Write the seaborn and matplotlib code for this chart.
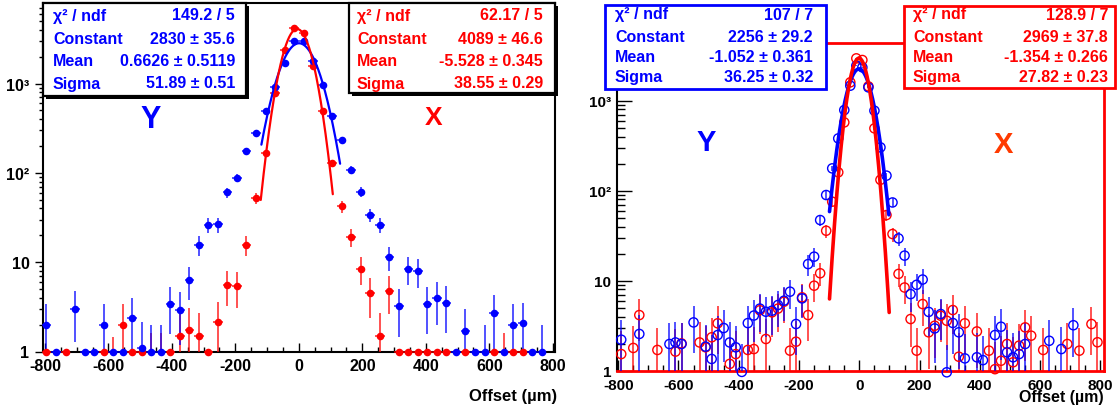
import numpy as np
import pandas as pd
import matplotlib
matplotlib.use("Agg")
import matplotlib.pyplot as plt
from matplotlib.patches import Rectangle
from matplotlib.ticker import FixedLocator, FixedFormatter, MultipleLocator, NullFormatter
import seaborn as sns

nan = np.nan

# ---------------- left panel: 30 um bins ----------------
left_centers = np.arange(-795, 796, 30)
left_y_counts = [2.0, 0, nan, 3.0, 0, 0, 2.0, 0, 0, 2.4, 1.1, 1.0, 1.0, 3.4, 2.9, 6.3,
                 15.7, 26.3, 26.5, 60.6, 87.7, 174, 277, 498, 908, 1687, 2973, 3027,
                 1806, 973, 430, 232, 109, 61.6, 33.8, 26.3, 11.3, 3.26, 8.5, 8.04, 3.4,
                 3.94, 3.49, 0, 1.71, 0, 1.0, 2.7, 0, 2.0, 2.06, 0, 1.0, nan]
left_x_counts = [0, nan, 0, nan, nan, nan, 0, 0.65, 2.0, 0, 0, 0.75, 0.75, 0, 1.5, 1.76,
                 1.5, 0, 2.12, 5.55, 5.37, 15.7, 51.9, 167, 778, 2399, 4197, 3690, 1588,
                 498, 129, 42.2, 19.3, 8.5, 4.52, 1.48, 4.8, 0, 0, 0, 0, 0, 0, nan, 0,
                 nan, nan, 0, 0.75, 0, 0, nan, nan, nan]

# ---------------- right panel: 20 um bins ----------------
right_centers = np.arange(-790, 791, 20)
right_y_counts = [2.21, nan, nan, 2.56, nan, nan, nan, nan, 1.98, 2.06, 1.98, nan, 3.44,
                  nan, 1.85, 1.35, 2.49, 2.98, 2.06, 1.82, 0.97, 3.38, 4.1, 4.9, 4.52,
                  4.64, 5.37, 6.0, 7.55, 3.3, 6.36, 15.3, 18.5, 47.2, 89.5, 177, 381,
                  787, 1468, 2449, 2345, 1406, 774, 303, 147, 74, 29.5, 19, 7.1, 9.0,
                  10.3, 4.5, 2.95, 4.26, 0.96, 3.39, 2.67, 1.37, nan, 1.41, 1.31, nan,
                  2.49, 3.08, 1.6, 1.41, 1.53, 1.98, nan, nan, nan, 2.15, nan, 1.74, nan,
                  3.2, nan, nan, nan, nan]
right_x_counts = [1.53, nan, 1.79, 4.15, nan, nan, 1.70, nan, nan, 1.63, 2.01, nan, nan,
                  2.06, 1.82, 2.35, 3.36, nan, 1.19, 1.53, nan, 1.70, 1.74, 4.7, 2.25,
                  4.45, 4.9, 5.84, 1.67, 2.1, 6.53, 4.15, 8.8, 12.1, 35.9, 75.5, 160,
                  574, 1600, 2953, 2831, 1443, 493, 132, 53.6, 33, 11.9, 8.4, 3.75, 1.67,
                  5.5, 2.67, 3.16, 4.08, 3.59, 4.72, 1.43, 3.36, nan, 2.73, nan, 1.67,
                  1.04, 1.29, 1.98, 1.24, 1.9, 3.03, 2.45, nan, 1.7, nan, nan, nan, 1.98,
                  nan, 1.67, nan, 3.3, 2.07]

# ---------------- Gaussian fit results ----------------
stat_names = ["\u03c7\u00b2 / ndf", "Constant", "Mean", "Sigma"]
left_y_stats = ["149.2 / 5", "2830 \u00b1 35.6", "0.6626 \u00b1 0.5119", "51.89 \u00b1 0.51"]
left_x_stats = ["62.17 / 5", "4089 \u00b1 46.6", "-5.528 \u00b1 0.345", "38.55 \u00b1 0.29"]
right_y_stats = ["107 / 7", "2256 \u00b1 29.2", "-1.052 \u00b1 0.361", "36.25 \u00b1 0.32"]
right_x_stats = ["128.9 / 7", "2969 \u00b1 37.8", "-1.354 \u00b1 0.266", "27.82 \u00b1 0.23"]
left_y_fit_range = [-118, 130]
left_x_fit_range = [-120, 107]
right_y_fit_range = [-99, 98]
right_x_fit_range = [-99, 99]

x_tick_values = [-800, -600, -400, -200, 0, 200, 400, 600, 800]
y_tick_values = [1, 10, 100, 1000]
y_tick_labels = ["1", "10", "10\u00b2", "10\u00b3"]

BLUE = "#0000ff"
RED = "#ff0000"
XRED = "#ff3a00"

sns.set_theme(style="white")
plt.rcParams["font.family"] = ["Liberation Sans", "DejaVu Sans"]
plt.rcParams["axes.unicode_minus"] = False

W, H = 1118, 410
fig = plt.figure(figsize=(W / 100, H / 100), dpi=100)
fig.patch.set_facecolor("white")
PT = 72 / 100  # points per pixel


def fx(px):
    return px / W


def fy(py):
    return 1 - py / H


def add_axes(x0, y0, x1, y1):
    return fig.add_axes([fx(x0), fy(y1), (x1 - x0) / W, (y1 - y0) / H])


def gauss_params(stats):
    return [float(s.split("\u00b1")[0]) for s in stats[1:]]


def draw_hist(ax, centers, counts, color, filled, half_width, size):
    v = np.asarray(counts, dtype=float)
    c = np.asarray(centers, dtype=float)
    ymin = ax.get_ylim()[0]
    ok = ~np.isnan(v)
    pos = ok & (v > 0)
    err = np.sqrt(np.where(pos, v, 0))
    lo = np.maximum(v - err, 1e-3)
    hi = v + err
    ax.vlines(c[pos], lo[pos], hi[pos], colors=color, linewidth=1.2, alpha=0.8, zorder=3)
    shown = ok & ((v == 0) | (v >= 0.9))
    y_shown = np.where(v[shown] == 0, ymin, v[shown])
    df = pd.DataFrame({"offset": c[shown], "count": y_shown})
    if half_width:
        ax.hlines(df["count"], df["offset"] - half_width, df["offset"] + half_width,
                  colors=color, linewidth=1.2, alpha=0.8, zorder=3, clip_on=False)
    if filled:
        sns.scatterplot(data=df, x="offset", y="count", ax=ax, color=color, s=size,
                        edgecolor=color, linewidth=0, marker="o", zorder=4, clip_on=False,
                        legend=False)
    else:
        sns.scatterplot(data=df, x="offset", y="count", ax=ax, color=color, s=size,
                        facecolors="none", edgecolor=color, linewidth=1.0, marker="o",
                        zorder=4, clip_on=False, legend=False)


def draw_fit(ax, stats, xr, color, lw):
    const, mean, sigma = gauss_params(stats)
    xs = np.linspace(xr[0], xr[1], 300)
    ys = const * np.exp(-0.5 * ((xs - mean) / sigma) ** 2)
    sns.lineplot(x=xs, y=ys, ax=ax, color=color, linewidth=lw, estimator=None,
                 sort=False, zorder=5, legend=False)


def style_axes(ax, xlim, ylim, y_dir, y_major, y_minor, x_major, x_minor, fs):
    ax.set_yscale("log")
    ax.set_xlim(*xlim)
    ax.set_ylim(*ylim)
    ax.set_facecolor("white")
    ax.xaxis.set_major_locator(FixedLocator(x_tick_values))
    ax.xaxis.set_major_formatter(FixedFormatter([str(t) for t in x_tick_values]))
    ax.xaxis.set_minor_locator(MultipleLocator(50))
    ax.yaxis.set_major_locator(FixedLocator(y_tick_values))
    ax.yaxis.set_major_formatter(FixedFormatter(y_tick_labels))
    minors = [m * 10 ** d for d in range(0, 4) for m in range(2, 10)]
    ax.yaxis.set_minor_locator(FixedLocator(minors))
    ax.yaxis.set_minor_formatter(NullFormatter())
    ax.tick_params(axis="x", which="major", direction="in", length=x_major * PT,
                   width=1, colors="black", labelsize=fs, pad=5, bottom=True, top=False)
    ax.tick_params(axis="x", which="minor", direction="in", length=x_minor * PT,
                   width=1, colors="black", bottom=True, top=False)
    ax.tick_params(axis="y", which="major", direction=y_dir, length=y_major * PT,
                   width=1, colors="black", labelsize=fs, pad=4, left=True, right=False)
    ax.tick_params(axis="y", which="minor", direction=y_dir, length=y_minor * PT,
                   width=1, colors="black", left=True, right=False)
    for lab in ax.get_xticklabels() + ax.get_yticklabels():
        lab.set_fontweight("bold")
    ax.set_xlabel("")
    ax.set_ylabel("")
    ax.grid(False)


def stat_box(x0, y0, x1, y1, edge, tcolor, values, lx, vx, rows, family, fs, lw, shadow):
    if shadow:
        fig.add_artist(Rectangle((fx(x0 + 3), fy(y1 + 3)), (x1 - x0) / W, (y1 - y0) / H,
                                 transform=fig.transFigure, facecolor="black",
                                 edgecolor="none", zorder=9))
    fig.add_artist(Rectangle((fx(x0), fy(y1)), (x1 - x0) / W, (y1 - y0) / H,
                             transform=fig.transFigure, facecolor="white",
                             edgecolor=edge, linewidth=lw, zorder=10))
    for name, val, ry in zip(stat_names, values, rows):
        fig.text(fx(lx), fy(ry), name, color=tcolor, ha="left", va="center",
                 family=family, fontsize=fs, fontweight="bold", zorder=11)
        fig.text(fx(vx), fy(ry), val, color=tcolor, ha="right", va="center",
                 family=family, fontsize=fs, fontweight="bold", zorder=11)


sans = ["Liberation Sans", "DejaVu Sans"]

# ---------------- left panel ----------------
ax1 = add_axes(43, 4, 555, 352.5)
style_axes(ax1, (-806, 807), (1, 7990), "out", 8, 4, 9, 5, 11.5)
for sp in ax1.spines.values():
    sp.set_color("black")
    sp.set_linewidth(1.5)
draw_hist(ax1, left_centers, left_x_counts, RED, True, 15, 30)
draw_hist(ax1, left_centers, left_y_counts, BLUE, True, 15, 30)
draw_fit(ax1, left_y_stats, left_y_fit_range, BLUE, 1.6)
draw_fit(ax1, left_x_stats, left_x_fit_range, RED, 1.6)
style_axes(ax1, (-806, 807), (1, 7990), "out", 8, 4, 9, 5, 11.5)

stat_box(43, 4, 246, 97, "black", BLUE, left_y_stats, 53, 235, [16, 39, 61, 84],
         sans, 11.5, 1.6, True)
stat_box(349, 4, 555, 94, "black", RED, left_x_stats, 357, 543, [16, 39, 61, 84],
         sans, 11.5, 1.6, True)
fig.text(fx(151), fy(120), "Y", color=BLUE, ha="center", va="center", family=sans,
         fontsize=22, fontweight="bold")
fig.text(fx(434), fy(118), "X", color=RED, ha="center", va="center", family=sans,
         fontsize=19, fontweight="bold")
fig.text(fx(557), fy(397), "Offset (\u00b5m)", color="black", ha="right", va="center",
         fontsize=12, fontweight="bold")

# ---------------- right panel ----------------
ax2 = add_axes(616.7, 44, 1103.5, 371.7)
style_axes(ax2, (-805, 810), (1, 4375), "in", 15, 8, 11, 6, 11)
ax2.spines["left"].set_color("black")
ax2.spines["left"].set_linewidth(1.5)
for side in ("top", "right", "bottom"):
    ax2.spines[side].set_color(RED)
    ax2.spines[side].set_linewidth(2)
draw_hist(ax2, right_centers, right_x_counts, RED, False, 0, 44)
draw_hist(ax2, right_centers, right_y_counts, BLUE, False, 0, 44)
draw_fit(ax2, right_y_stats, right_y_fit_range, BLUE, 2.6)
draw_fit(ax2, right_x_stats, right_x_fit_range, RED, 2.6)
style_axes(ax2, (-805, 810), (1, 4375), "in", 15, 8, 11, 6, 11)

stat_box(605, 6, 826, 90, BLUE, BLUE, right_y_stats, 615, 813, [15, 37, 58, 78],
         sans, 11.5, 2, False)
stat_box(904, 7, 1115, 89, RED, RED, right_x_stats, 913, 1108, [15, 37, 58, 78],
         sans, 11.5, 2, False)
fig.text(fx(706), fy(143), "Y", color=BLUE, ha="center", va="center", fontsize=21,
         fontweight="bold")
fig.text(fx(1003), fy(145), "X", color=XRED, ha="center", va="center", fontsize=21,
         fontweight="bold")
fig.text(fx(1104), fy(398), "Offset (\u00b5m)", color="black", ha="right", va="center",
         fontsize=11.5, fontweight="bold")

fig.savefig("out.png", dpi=100)
